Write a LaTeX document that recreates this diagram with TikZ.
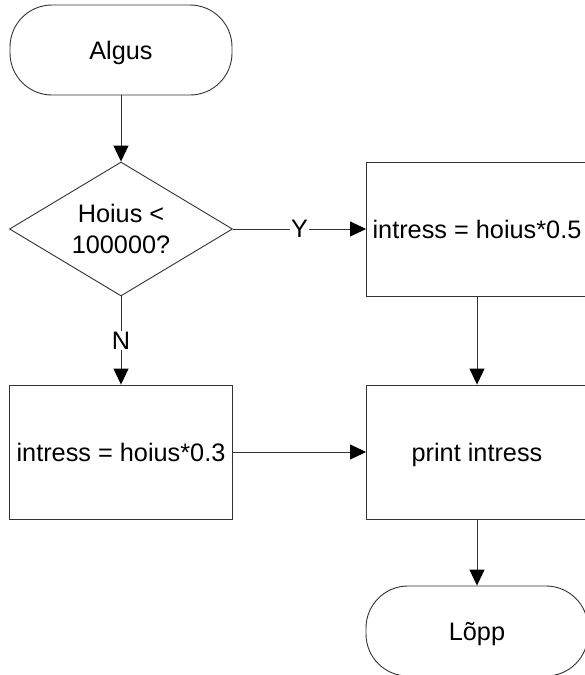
\documentclass[tikz,border=0pt]{standalone}
\usepackage{fontspec}
\setmainfont{Liberation Sans}
\usetikzlibrary{shapes.geometric,arrows.meta}
\begin{document}
\begin{tikzpicture}[x=1pt,y=-1pt,
  every node/.style={font=\fontsize{25.3}{31}\selectfont, text=black},
  outline/.style={draw=black!80, line width=0.9pt, fill=white},
  oneline/.style={text height=18.2pt, text depth=0pt},
  term/.style={outline, oneline, rectangle, rounded corners=42pt, minimum width=222pt, minimum height=90pt, inner sep=0pt},
  proc/.style={outline, oneline, rectangle, minimum width=221pt, minimum height=134pt, inner sep=0pt},
  decision/.style={outline, diamond, aspect=1.66, minimum width=223pt, minimum height=134pt, inner sep=0pt, align=center},
  flow/.style={draw=black!80, line width=0.9pt, -{Triangle[length=16pt,width=15pt,color=black]}},
  lbl/.style={fill=white, inner sep=1pt}]
\useasboundingbox (0,0) rectangle (585,675);

% boxes of the flowchart
\node[term] (start) at (121,50) {Algus};
\node[decision] (dec) at (121,229) {Hoius <\\100000?};
\node[proc] (yes) at (477,229) {intress = hoius*0.5};
\node[proc, minimum width=223pt] (no) at (121,452) {intress = hoius*0.3};
\node[proc] (print) at (477,452) {print intress};
\node[term] (stop) at (477,631) {Lõpp};

% connectors
\draw[flow] (start) -- (dec);
\draw[flow] (dec) -- node[lbl] {Y} (yes);
\draw[flow] (dec) -- node[lbl] {N} (no);
\draw[flow] (no) -- (print);
\draw[flow] (yes) -- (print);
\draw[flow] (print) -- (stop);
\end{tikzpicture}
\end{document}
